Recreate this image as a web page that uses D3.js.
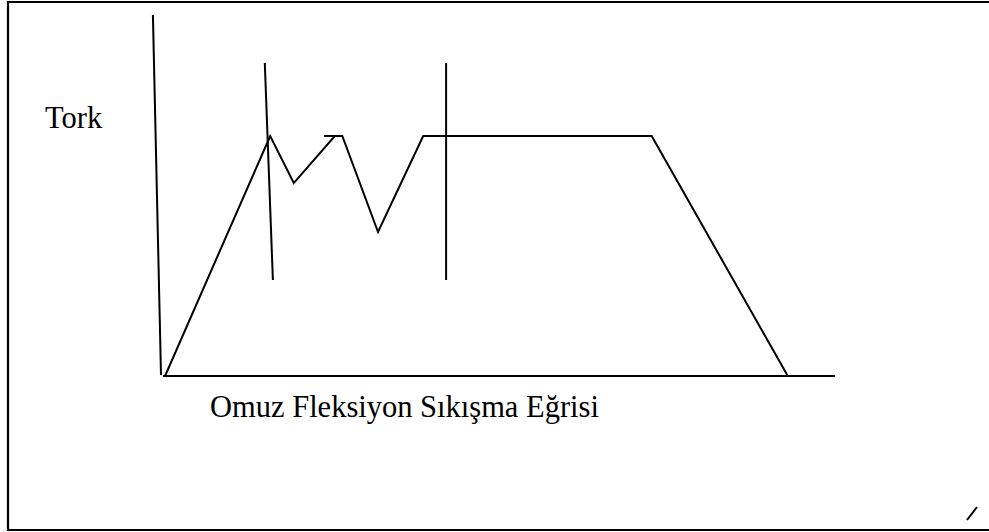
<!DOCTYPE html>
<html>
<head>
<meta charset="utf-8">
<script src="https://cdn.jsdelivr.net/npm/d3@7"></script>
<style>
  html, body { margin: 0; padding: 0; background: #fff; }
  svg { display: block; }
  text { font-family: "Liberation Serif", "Times New Roman", serif; fill: #000; }
</style>
</head>
<body>
<div id="chart"></div>
<script>
// torque curve, x = time (0-100), y = torque (0-100, plateau = 100)
const curveX = [0.6, 16.2, 19.7, 25.8, 24.2, 26.9, 32.2, 38.9, 72.8, 93.0];
const curveY = [0, 100, 80.4, 100, 100, 100, 60, 100, 100, 0];

// phase markers (start/end of impingement arc)
const markers = [
  { x0: 15.4, x1: 16.6, y0: 130.4, y1: 40 },
  { x0: 42.3, x1: 42.3, y0: 130.4, y1: 40 }
];

// axis extents
const yAxisLine = { x0: -1.2, x1: 0, y0: 150.4, y1: 0.4 };
const xAxisLine = { x0: 0.3, x1: 100, y: 0 };

const yLabel = "Tork";
const title = "Omuz Fleksiyon Sıkışma Eğrisi";

const W = 989, H = 532;
const svg = d3.select("#chart").append("svg")
  .attr("width", W).attr("height", H);

const x = d3.scaleLinear().domain([0, 100]).range([161, 835]);
const y = d3.scaleLinear().domain([0, 100]).range([376, 136]);

// frame
svg.append("path")
  .attr("d", `M8,531 L8,2 L992,2 M8,530 L992,530`)
  .attr("fill", "none").attr("stroke", "#000").attr("stroke-width", 2.2);

const line = d3.line().x(d => x(d[0])).y(d => y(d[1]));
const stroke = s => s.attr("fill", "none").attr("stroke", "#000").attr("stroke-width", 2);

svg.append("path")
  .attr("d", line([[yAxisLine.x0, yAxisLine.y0], [yAxisLine.x1, yAxisLine.y1]]))
  .call(stroke);
svg.append("path")
  .attr("d", line([[xAxisLine.x0, xAxisLine.y], [xAxisLine.x1, xAxisLine.y]]))
  .call(stroke);

svg.append("path")
  .datum(d3.zip(curveX, curveY))
  .attr("d", line)
  .attr("stroke-linejoin", "miter")
  .call(stroke);

svg.selectAll(".marker").data(markers).join("path")
  .attr("class", "marker")
  .attr("d", d => line([[d.x0, d.y0], [d.x1, d.y1]]))
  .call(stroke);

svg.append("text").attr("x", 45).attr("y", 128)
  .attr("font-size", 30.5).text(yLabel);
svg.append("text").attr("x", 210).attr("y", 417)
  .attr("font-size", 30.5).text(title);

// stray mark bottom right
svg.append("path").attr("d", "M967,520 L977,507").call(stroke);
</script>
</body>
</html>
